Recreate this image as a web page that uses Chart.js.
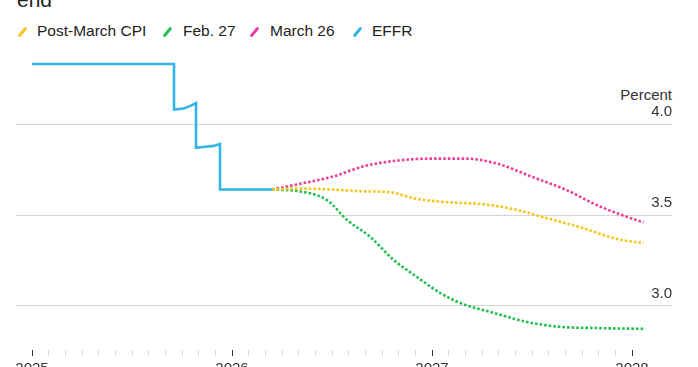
<!DOCTYPE html>
<html>
<head>
<meta charset="utf-8">
<script src="https://cdn.jsdelivr.net/npm/chart.js@4/dist/chart.umd.min.js"></script>
<style>
  body { margin: 0; overflow: hidden; background: #fff; font-family: "Liberation Sans", Arial, sans-serif; color: #222; }
  #wrap { position: relative; width: 698px; height: 367px; overflow: hidden; }
  #chart { position: absolute; left: 0; top: 0; }
  .title { position: absolute; left: 17px; top: -12px; font-size: 21px; color: #222; }
  .lg { position: absolute; top: 22px; font-size: 15.5px; line-height: 18px; white-space: nowrap; }
  .sw { position: absolute; width: 3px; height: 12px; border-radius: 1.5px; transform: rotate(40deg); }
  .unit { position: absolute; right: 26px; top: 86px; font-size: 15px; color: #333; }
</style>
</head>
<body>
<div id="wrap">
  <div class="title">end</div>
  <div id="legend"></div>
  <div class="unit">Percent</div>
  <canvas id="chart" width="698" height="385"></canvas>
</div>
<script>
// x = months since Jan 2025, y = percent
const years = ['2025', '2026', '2027', '2028'];
const seriesNames = ['Post-March CPI', 'Feb. 27', 'March 26', 'EFFR'];
const seriesColors = ['#f4c51d', '#22bf4e', '#ec3f9c', '#33b4e6'];

const effrMonths = [0, 8.52, 8.52, 9.1, 9.5, 9.84, 9.84, 10.4, 10.9, 11.28, 11.28, 14.4];
const effrValues = [4.33, 4.33, 4.08, 4.085, 4.10, 4.115, 3.87, 3.875, 3.88, 3.89, 3.64, 3.64];

const cpiMonths = [14.4, 16, 18, 20, 21.5, 23, 25, 27, 29, 31, 33, 35, 36.7];
const cpiValues = [3.64, 3.645, 3.64, 3.63, 3.625, 3.59, 3.57, 3.56, 3.53, 3.48, 3.43, 3.37, 3.345];

const febMonths = [14.4, 15.9, 17.7, 18.9, 20.3, 21.7, 23.1, 24.5, 25.7, 27.7, 29.7, 31.7, 33.7, 36.8];
const febValues = [3.64, 3.632, 3.582, 3.473, 3.379, 3.253, 3.159, 3.071, 3.016, 2.962, 2.912, 2.885, 2.879, 2.874];

const marMonths = [14.4, 16, 18, 20, 22, 24, 26, 28, 30, 32, 34, 36, 36.7];
const marValues = [3.64, 3.67, 3.71, 3.77, 3.80, 3.81, 3.81, 3.78, 3.71, 3.64, 3.55, 3.48, 3.46];

const yTicks = [3.0, 3.5, 4.0];

// legend (html)
const legendX = [[18, 37], [163, 183], [250, 270], [353, 372]];
const legend = document.getElementById('legend');
seriesNames.forEach((name, i) => {
  const sw = document.createElement('div');
  sw.className = 'sw';
  sw.style.left = (legendX[i][0] + 3) + 'px';
  sw.style.top = '26px';
  sw.style.background = seriesColors[i];
  legend.appendChild(sw);
  const t = document.createElement('div');
  t.className = 'lg';
  t.style.left = legendX[i][1] + 'px';
  t.textContent = name;
  legend.appendChild(t);
});

function pts(xs, ys) {
  return xs.map((x, i) => ({x: x, y: ys[i]}));
}

const dotted = {
  borderWidth: 2.6,
  borderDash: [2.6, 2],
  borderCapStyle: 'butt',
  cubicInterpolationMode: 'monotone',
  pointRadius: 0,
  fill: false
};

new Chart(document.getElementById('chart'), {
  type: 'line',
  data: {
    datasets: [
      Object.assign({label: seriesNames[0], data: pts(cpiMonths, cpiValues), borderColor: seriesColors[0]}, dotted),
      Object.assign({label: seriesNames[1], data: pts(febMonths, febValues), borderColor: seriesColors[1]}, dotted),
      Object.assign({label: seriesNames[2], data: pts(marMonths, marValues), borderColor: seriesColors[2]}, dotted),
      {
        label: seriesNames[3],
        data: pts(effrMonths, effrValues),
        borderColor: seriesColors[3],
        borderWidth: 2.6,
        tension: 0,
        pointRadius: 0,
        fill: false
      }
    ]
  },
  options: {
    responsive: false,
    animation: false,
    devicePixelRatio: 1,
    layout: { padding: { top: 50, left: 16, right: 26, bottom: 5 } },
    plugins: { legend: { display: false }, tooltip: { enabled: false } },
    scales: {
      x: {
        type: 'linear',
        min: -0.96,
        max: 38.4,
        afterBuildTicks: (scale) => {
          const t = [];
          for (let m = 0; m <= 36; m++) t.push({value: m});
          scale.ticks = t;
        },
        afterFit: (scale) => { scale.height = 30; },
        border: { display: false },
        grid: {
          drawOnChartArea: false,
          drawTicks: true,
          tickLength: 6,
          tickWidth: 1,
          offset: false,
          tickColor: (ctx) => (ctx.tick && ctx.tick.value % 12 === 0) ? '#333' : '#d8d8d8'
        },
        ticks: {
          autoSkip: false,
          maxRotation: 0,
          padding: 4,
          color: '#333',
          font: { family: 'Liberation Sans', size: 15 },
          callback: (v) => v % 12 === 0 ? years[v / 12] : ''
        }
      },
      y: {
        position: 'right',
        min: 2.758,
        max: 4.407,
        afterBuildTicks: (scale) => { scale.ticks = yTicks.map(v => ({value: v})); },
        border: { display: false },
        grid: { color: '#d5d5d5', lineWidth: 1, drawTicks: false },
        ticks: {
          mirror: true,
          padding: 0,
          labelOffset: -12,
          color: '#333',
          font: { family: 'Liberation Sans', size: 15 },
          callback: (v) => v.toFixed(1)
        }
      }
    }
  }
});
</script>
</body>
</html>
